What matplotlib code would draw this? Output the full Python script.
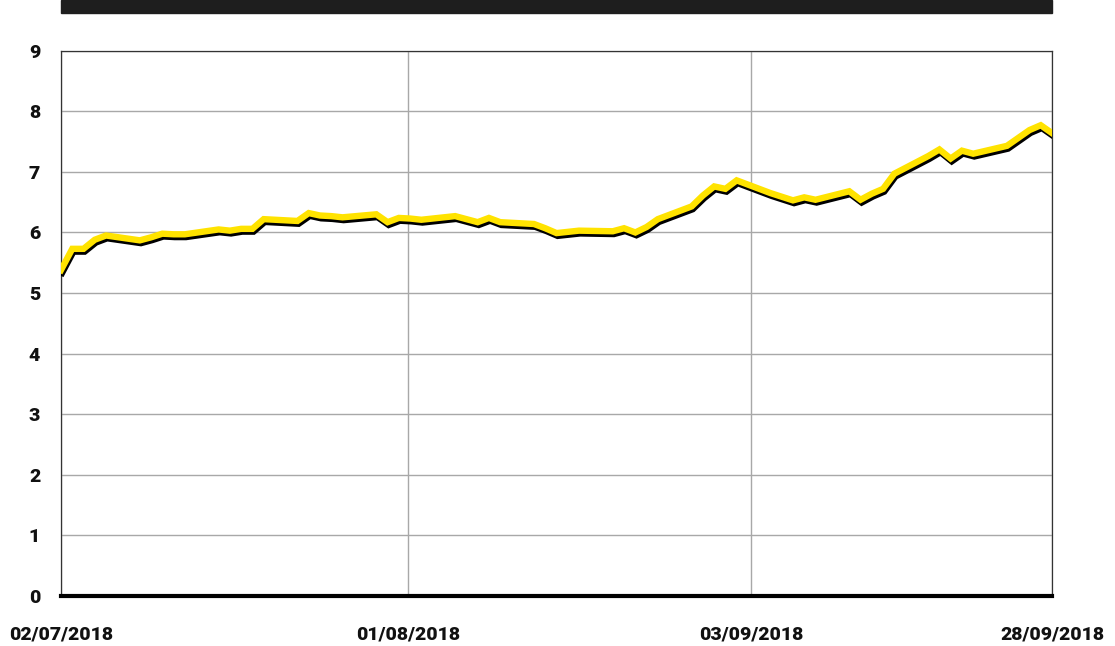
import pandas as pd
import matplotlib
matplotlib.use("Agg")
import matplotlib.pyplot as plt
import matplotlib.patheffects as pe
from matplotlib.patches import Rectangle

# weekdays only, 02/07/2018 .. 28/09/2018
dates = pd.bdate_range("2018-07-02", "2018-09-28")
values = [
    5.38, 5.73, 5.73, 5.88, 5.95,
    5.87, 5.92, 5.98, 5.97, 5.97,
    6.05, 6.03, 6.06, 6.06, 6.22,
    6.19, 6.32, 6.28, 6.27, 6.25,
    6.30, 6.17, 6.24, 6.23, 6.21,
    6.27, 6.22, 6.17, 6.24, 6.17,
    6.14, 6.07, 5.99, 6.01, 6.03,
    6.02, 6.07, 6.00, 6.09, 6.22,
    6.43, 6.61, 6.76, 6.72, 6.86,
    6.65, 6.59, 6.53, 6.58, 6.54,
    6.68, 6.54, 6.64, 6.72, 6.97,
    7.26, 7.37, 7.22, 7.35, 7.30,
    7.43, 7.56, 7.69, 7.77, 7.64,
]
tick_days = [0, 30.8, 61.3, 88]
tick_labels = ["02/07/2018", "01/08/2018", "03/09/2018", "28/09/2018"]
y_ticks = list(range(0, 10))

start = pd.Timestamp("2018-07-02")
x = [(d - start).days for d in dates]

plt.rcParams["font.family"] = ["Roboto", "DejaVu Sans"]

fig = plt.figure(figsize=(11.15, 6.46), dpi=100)
ax = fig.add_axes([0.0547, 0.0774, 0.8888, 0.8441])

# black band at the top
fig.patches.append(Rectangle((0.0547, 0.9794), 0.8888, 0.0206, transform=fig.transFigure,
                             color="#1e1e1e", zorder=0))

ax.plot(x, values, color="#ffe300", linewidth=4.6, solid_joinstyle="miter", zorder=3,
        path_effects=[pe.SimpleLineShadow(offset=(0.8, -2), shadow_color="black", alpha=1),
                      pe.Normal()])

ax.set_xlim(0, 88)
ax.set_ylim(0, 9)
ax.set_yticks(y_ticks)
ax.set_xticks(tick_days)
ax.set_xticklabels(tick_labels)

ax.grid(True, color="#a8a8a8", linewidth=1.0)
ax.set_axisbelow(True)
ax.tick_params(length=0)
ax.tick_params(axis="y", pad=15, labelsize=14)
ax.tick_params(axis="x", pad=21, labelsize=14)
for lab in ax.get_xticklabels() + ax.get_yticklabels():
    lab.set_fontweight("heavy")
    lab.set_color("#111111")

for s in ["left", "top", "right"]:
    ax.spines[s].set_color("#333333")
    ax.spines[s].set_linewidth(0.9)
ax.spines["bottom"].set_color("black")
ax.spines["bottom"].set_linewidth(3)
ax.spines["bottom"].set_zorder(4)

fig.savefig("out.png", dpi=100)
